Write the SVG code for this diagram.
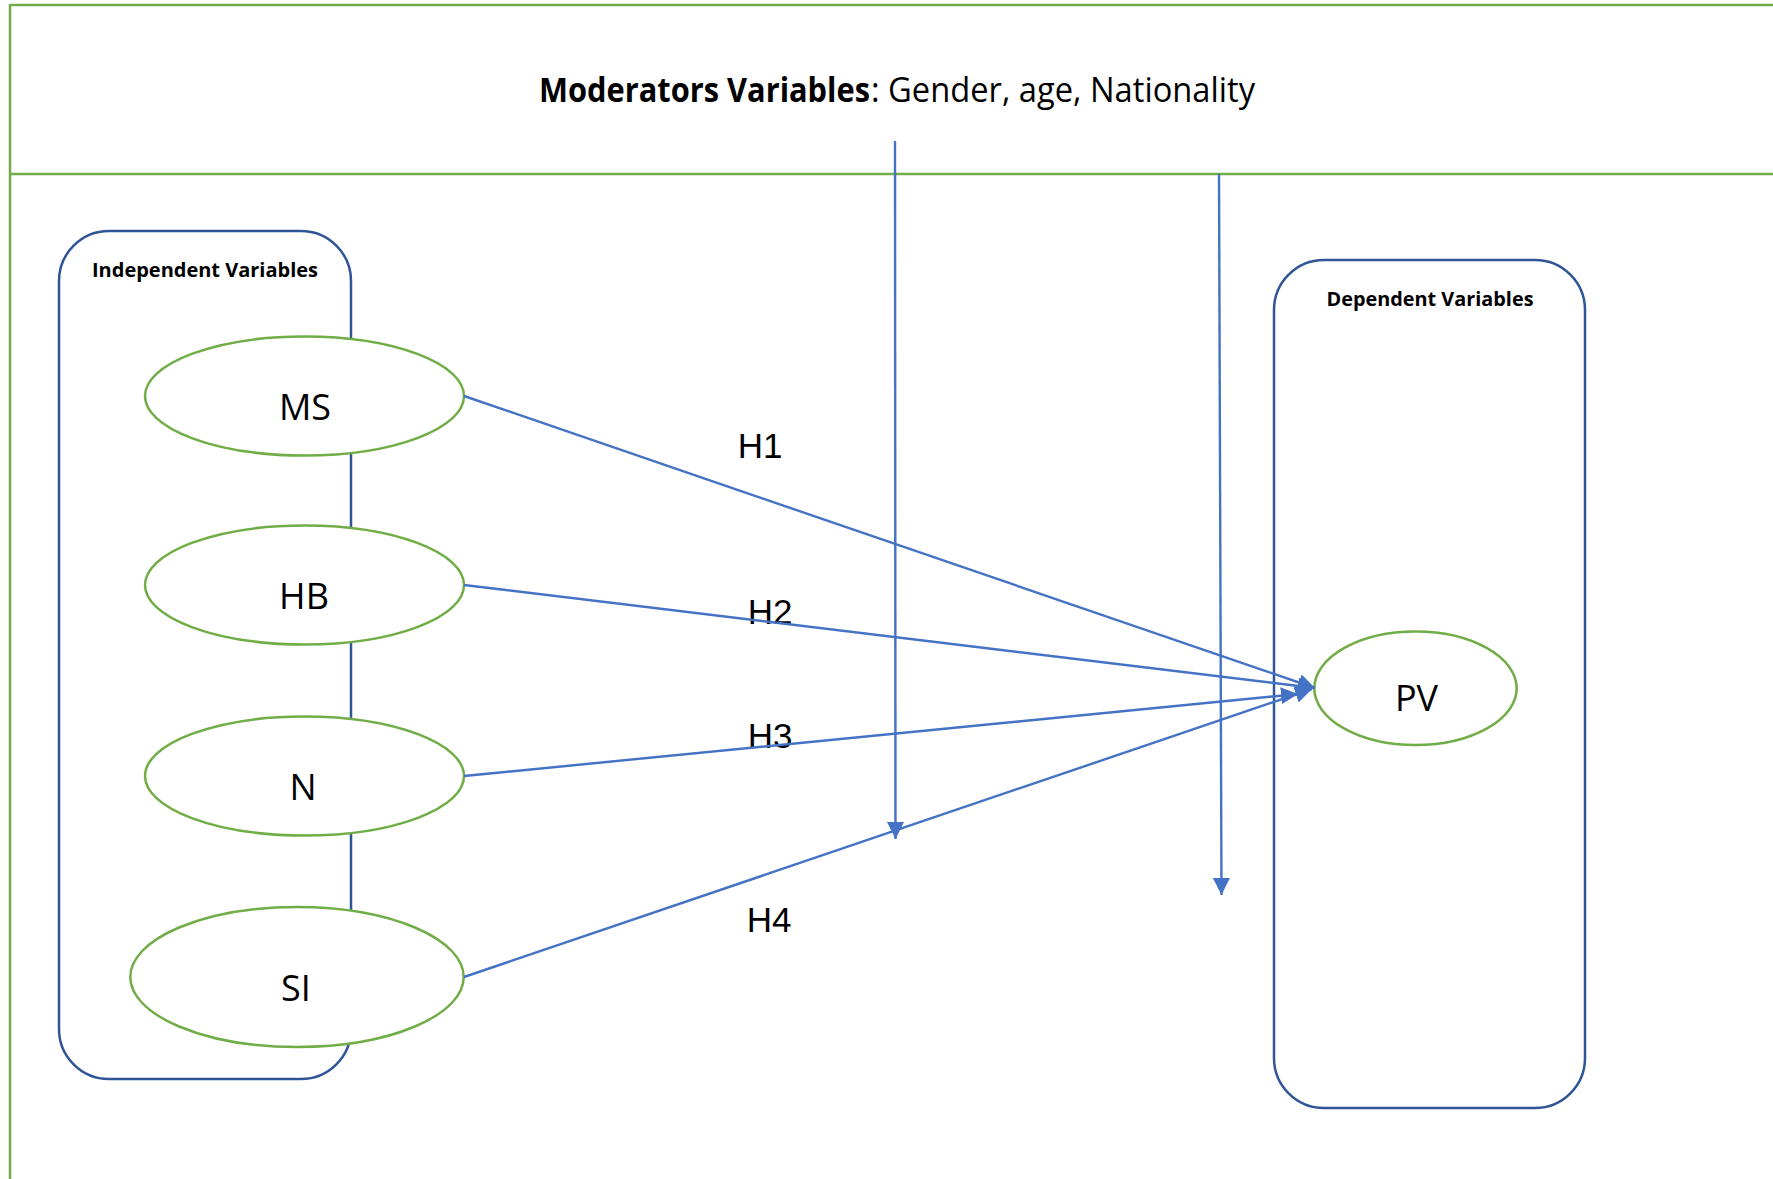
<svg xmlns="http://www.w3.org/2000/svg" width="1773" height="1179" viewBox="0 0 1773 1179">
  <style>
    .frame { stroke: #70AD47; stroke-width: 2.5; fill: none; }
    .group-box { stroke: #2F5597; stroke-width: 2.5; fill: none; }
    .var { stroke: #70AD47; stroke-width: 2.5; fill: #FFFFFF; }
    .link { stroke: #4472C4; stroke-width: 2.4; fill: none; }
    .title { font-family: "Open Sans", "Noto Sans", sans-serif; font-size: 34px; fill: #000000; }
    .box-title { font-family: "Open Sans", "Noto Sans", sans-serif; font-size: 20px; font-weight: bold; fill: #000000; text-anchor: middle; }
    .var-label { font-family: "Open Sans", "Noto Sans", sans-serif; font-size: 36px; fill: #000000; text-anchor: middle; }
    .hyp { font-family: "Liberation Sans", Arial, sans-serif; font-size: 35px; fill: #000000; text-anchor: middle; }
  </style>
  <defs>
    <marker id="arrow" markerUnits="userSpaceOnUse" markerWidth="18" markerHeight="17" refX="17" refY="8.5" orient="auto">
      <path d="M0,0 L17,8.5 L0,17 z" fill="#4472C4"/>
    </marker>
  </defs>

  <rect width="1773" height="1179" fill="#FFFFFF"/>

  <!-- outer frame: moderator band on top, model area below -->
  <g id="frame">
    <line class="frame" x1="10" y1="5" x2="1773" y2="5"/>
    <line class="frame" x1="10" y1="174" x2="1773" y2="174"/>
    <line class="frame" x1="10" y1="4" x2="10" y2="1179"/>
    <text class="title" y="102">
      <tspan x="539" font-weight="bold" textLength="331" lengthAdjust="spacingAndGlyphs">Moderators Variables</tspan><tspan x="871" textLength="384" lengthAdjust="spacingAndGlyphs">: Gender, age, Nationality</tspan>
    </text>
  </g>

  <!-- grouping boxes -->
  <g id="independent-box">
    <rect class="group-box" x="59" y="231" width="292" height="848" rx="50" ry="50"/>
    <text class="box-title" x="205" y="277" textLength="226" lengthAdjust="spacingAndGlyphs">Independent Variables</text>
  </g>
  <g id="dependent-box">
    <rect class="group-box" x="1274" y="260" width="311" height="848" rx="50" ry="50"/>
    <text class="box-title" x="1430" y="306" textLength="207" lengthAdjust="spacingAndGlyphs">Dependent Variables</text>
  </g>

  <!-- variables -->
  <g id="node-ms">
    <ellipse class="var" cx="304.5" cy="396" rx="159.5" ry="59.5"/>
    <text class="var-label" x="305" y="420">MS</text>
  </g>
  <g id="node-hb">
    <ellipse class="var" cx="304.5" cy="585" rx="159.5" ry="59.5"/>
    <text class="var-label" x="304" y="609">HB</text>
  </g>
  <g id="node-n">
    <ellipse class="var" cx="304.5" cy="776" rx="159.5" ry="59.5"/>
    <text class="var-label" x="303" y="800">N</text>
  </g>
  <g id="node-si">
    <ellipse class="var" cx="297" cy="977" rx="166.7" ry="70"/>
    <text class="var-label" x="296" y="1001">SI</text>
  </g>
  <g id="node-pv">
    <ellipse class="var" cx="1415.5" cy="688.3" rx="101.2" ry="56.7"/>
    <text class="var-label" x="1416.5" y="711">PV</text>
  </g>

  <!-- hypothesis labels -->
  <g id="hypotheses">
    <text class="hyp" x="760" y="458">H1</text>
    <text class="hyp" x="770" y="624">H2</text>
    <text class="hyp" x="770" y="748">H3</text>
    <text class="hyp" x="769" y="932">H4</text>
  </g>

  <!-- connectors -->
  <g id="connectors">
    <line class="link" x1="464" y1="396" x2="1315" y2="688" marker-end="url(#arrow)"/>
    <line class="link" x1="464" y1="585" x2="1315" y2="688" marker-end="url(#arrow)"/>
    <line class="link" x1="464" y1="776" x2="1298" y2="694" marker-end="url(#arrow)"/>
    <line class="link" x1="464" y1="977" x2="1312" y2="689" marker-end="url(#arrow)"/>
    <line class="link" x1="895" y1="141" x2="895.5" y2="839" marker-end="url(#arrow)"/>
    <line class="link" x1="1219" y1="174" x2="1221.5" y2="895" marker-end="url(#arrow)"/>
  </g>
</svg>
